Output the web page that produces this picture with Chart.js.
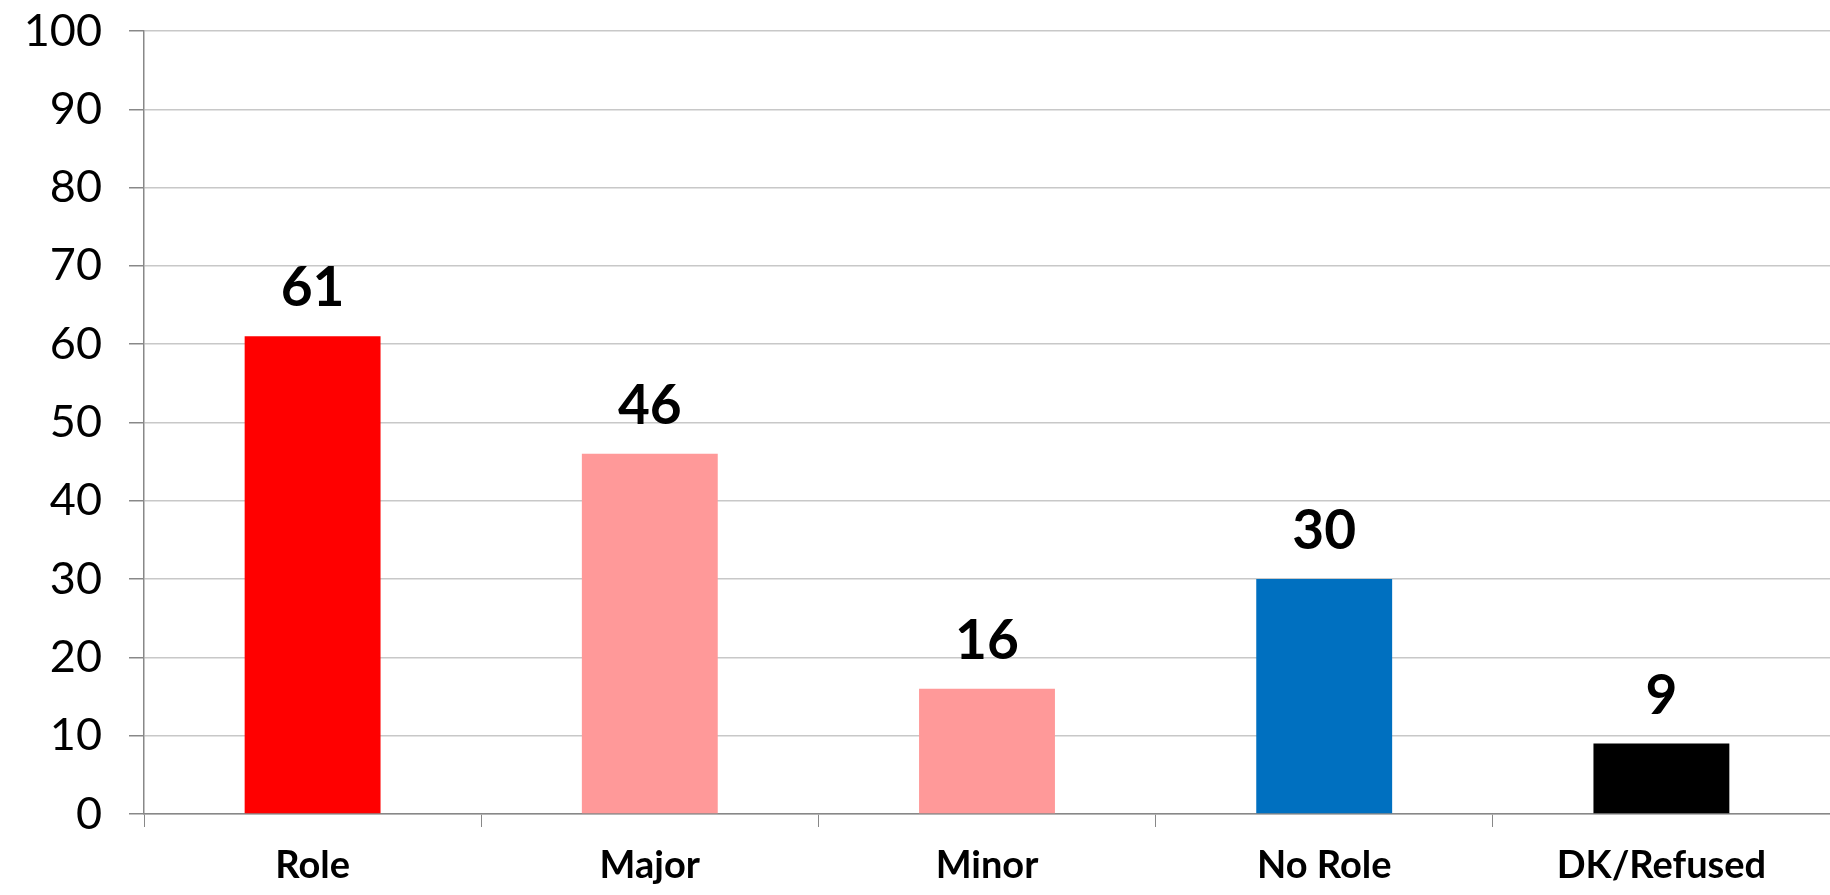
<!DOCTYPE html>
<html lang="en">
<head>
    <meta charset="UTF-8">
    <title>Role chart</title>
    <style>
        body { margin: 0; background: #fff; }
        .wrap { width: 1830px; height: 895px; position: relative; }
    </style>
</head>
<body>
    <div class="wrap">
        <canvas id="roleChart" width="1830" height="895"></canvas>
    </div>

    <script src="https://cdn.jsdelivr.net/npm/chart.js"></script>
    <script>
        // data
        const categories = ["Role", "Major", "Minor", "No Role", "DK/Refused"];
        const values = [61, 46, 16, 30, 9];
        const barColors = ["#FF0000", "#FF9999", "#FF9999", "#0070C0", "#000000"];
        const yTicks = [0, 10, 20, 30, 40, 50, 60, 70, 80, 90, 100];

        const fontFamily = "Lato, 'Open Sans', sans-serif";

        // value labels above bars
        const valueLabels = {
            id: "valueLabels",
            afterDatasetsDraw(chart) {
                const ctx = chart.ctx;
                const meta = chart.getDatasetMeta(0);
                ctx.save();
                ctx.font = "bold 55px " + fontFamily;
                ctx.fillStyle = "#000";
                ctx.textAlign = "center";
                ctx.textBaseline = "alphabetic";
                meta.data.forEach((bar, i) => {
                    ctx.fillText(String(values[i]), bar.x, bar.y - 30);
                });
                ctx.restore();
            }
        };

        new Chart(document.getElementById("roleChart"), {
            type: "bar",
            data: {
                labels: categories,
                datasets: [{
                    data: values,
                    backgroundColor: barColors,
                    borderWidth: 0,
                    barPercentage: 0.403,
                    categoryPercentage: 1.0
                }]
            },
            options: {
                responsive: false,
                animation: false,
                layout: { padding: { top: 31, right: 0, left: 0, bottom: 0 } },
                plugins: {
                    legend: { display: false },
                    tooltip: { enabled: false }
                },
                scales: {
                    x: {
                        grid: {
                            display: true,
                            drawOnChartArea: false,
                            drawTicks: true,
                            tickLength: 13,
                            tickColor: "#888888",
                            offset: true
                        },
                        border: { color: "#888888", width: 1.5 },
                        ticks: {
                            color: "#000",
                            padding: 16,
                            font: { family: fontFamily, size: 38, weight: "bold" }
                        },
                        afterFit(scale) {
                            scale.height = 81;
                            scale.paddingLeft = 0;
                            scale.paddingRight = 0;
                        }
                    },
                    y: {
                        min: 0,
                        max: 100,
                        afterBuildTicks(scale) {
                            scale.ticks = yTicks.map(v => ({ value: v }));
                        },
                        grid: {
                            color: "#C8C8C8",
                            lineWidth: 1.5,
                            tickLength: 15,
                            tickColor: "#888888"
                        },
                        border: { color: "#888888", width: 1.5 },
                        ticks: {
                            color: "#000",
                            padding: 27,
                            font: { family: fontFamily, size: 45 }
                        },
                        afterFit(scale) {
                            scale.width = 144;
                            scale.paddingTop = 0;
                            scale.paddingBottom = 0;
                        }
                    }
                }
            },
            plugins: [valueLabels]
        });
    </script>
</body>
</html>
